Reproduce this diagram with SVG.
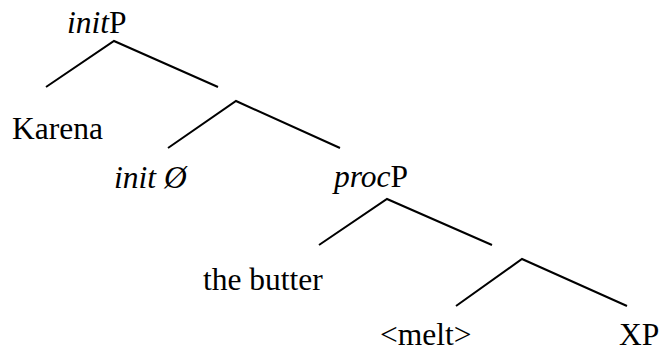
<svg xmlns="http://www.w3.org/2000/svg" width="661" height="354" viewBox="0 0 661 354">
<style>
text{font-family:"Liberation Serif","Times New Roman",serif;font-size:31.5px;fill:#000}
.i{font-style:italic}
.e{fill:none;stroke:#000;stroke-width:2}
</style>
<rect width="661" height="354" fill="#fff"/>
<g id="connectors">
<polyline class="e" points="46,87 114,41 218,87"/>
<polyline class="e" points="168,148 236,101 340,148"/>
<polyline class="e" points="319,245 387,199 492,245"/>
<polyline class="e" points="456,306 522,259 627,306"/>
</g>
<g id="initP"><text x="67" y="33"><tspan class="i">init</tspan>P</text></g>
<g id="karena"><text x="12" y="139">Karena</text></g>
<g id="init0"><text x="114" y="188" class="i">init Ø</text></g>
<g id="procP"><text x="334" y="187"><tspan class="i">proc</tspan>P</text></g>
<g id="butter"><text x="203" y="290">the butter</text></g>
<g id="melt"><text x="380" y="345">&lt;melt&gt;</text></g>
<g id="XP"><text x="619" y="345">XP</text></g>
</svg>
